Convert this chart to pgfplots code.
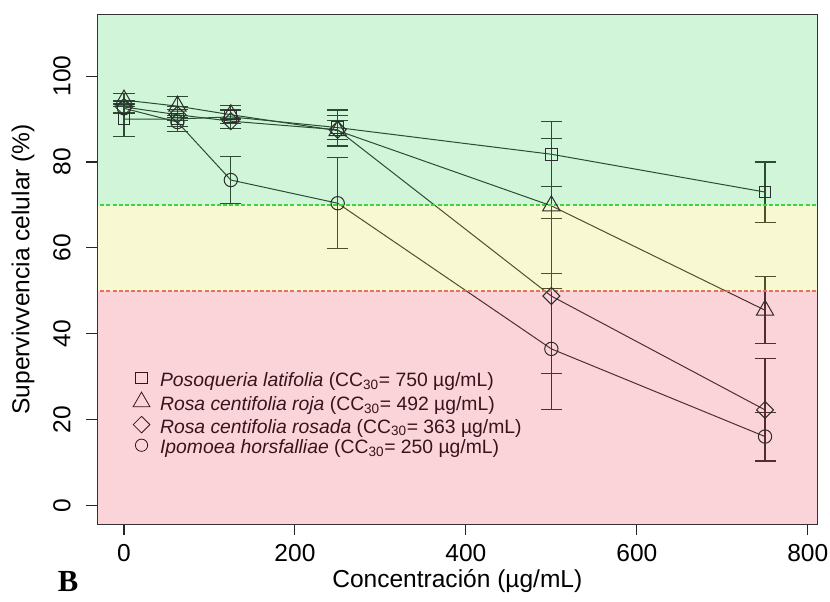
\documentclass[border=0pt]{standalone}
\usepackage{fontspec}
\setmainfont{Liberation Sans}
\newfontfamily\serifB{Liberation Serif}
\usepackage{pgfplots}
\usepackage{pgfplotstable}
\pgfplotsset{compat=1.18}

\definecolor{ovgreen}{RGB}{20,205,60}
\definecolor{ovyellow}{RGB}{220,220,30}
\definecolor{ovred}{RGB}{230,40,65}
\definecolor{ln}{RGB}{45,45,45}
\definecolor{lgd}{RGB}{55,20,28}
\definecolor{dgreen}{RGB}{60,215,60}
\definecolor{dred}{RGB}{225,115,95}

\pgfplotstableread{
x y e
0 90.0 4.0
62.5 90.0 3.0
125 90.5 2.7
250 88.0 4.1
500 81.8 7.6
750 73.0 7.0
}\posoq

\pgfplotstableread{
x y e
0 94.4 1.5
62.5 93.0 2.2
125 91.0 1.1
250 87.3 3.6
500 69.8 15.7
750 45.5 7.8
}\roja

\pgfplotstableread{
x y e
0 92.8 1.5
62.5 91.0 1.3
125 89.5 0.6
250 87.5 2.2
500 48.8 18.0
750 22.3 12.0
}\rosada

\pgfplotstableread{
x y e
0 92.5 1.0
62.5 89.3 1.0
125 75.8 5.4
250 70.4 10.6
500 36.5 14.1
750 16.1 5.6
}\ipom

\begin{document}
\begin{tikzpicture}
\begin{axis}[name=ax,
  scale only axis, width=540pt, height=382.5pt,
  xmin=-31.2, xmax=811.2, ymin=-4.33, ymax=114.36,
  xtick={0,200,400,600,800}, ytick={0,20,40,60,80,100},
  tick align=outside, major tick length=8.25pt,
  xtick pos=bottom, ytick pos=left,
  tick style={line width=0.8pt, color=black!85},
  axis line style={line width=0.9pt, color=black!80},
  axis on top,
  /pgf/number format/assume math mode=true,
  tick label style={font=\fontsize{18.4}{22}\selectfont},
  label style={font=\fontsize{18.4}{22}\selectfont},
  yticklabel style={rotate=90, anchor=base},
  xticklabel style={anchor=base},
  xticklabel shift=19.5pt,
  yticklabel shift=12pt,
  xlabel={Concentración (µg/mL)},
  ylabel={Supervivvencia celular (\%)},
  xlabel style={at={(0.5,-0.124)}, anchor=base},
  ylabel style={at={(-0.1032,0.5)}, anchor=center},
  legend style={at={(axis cs:5.85,31.2)}, anchor=north west, draw=none, fill=none,
    inner sep=0pt, column sep=3.7pt, row sep=0pt,
    font=\fontsize{14.5}{17}\selectfont, text=lgd,
    nodes={text height=9pt, text depth=3.5pt, inner sep=1pt}},
  legend cell align=left,
  legend image code/.code={\path (-9pt,0pt) (9pt,0pt); \draw[#1] plot coordinates {(0pt,3.6pt)};},
  error bars/y dir=both, error bars/y explicit,
  error bars/error bar style={line width=0.85pt, ln},
  error bars/error mark options={rotate=90, line width=0.85pt, ln, mark size=7.9pt},
]
\addplot[forget plot, ln, line width=0.75pt, mark=square, mark size=4.4pt,
  mark options={fill=white, line width=0.75pt}]
  table[x=x, y=y, y error=e] {\posoq};
\addplot[forget plot, ln, line width=0.75pt, mark=triangle, mark size=7.5pt,
  mark options={fill=white, line width=0.75pt}]
  table[x=x, y=y, y error=e] {\roja};
\addplot[forget plot, ln, line width=0.75pt, mark=square, mark size=4.5pt,
  mark options={rotate=45, fill=white, line width=0.75pt}]
  table[x=x, y=y, y error=e] {\rosada};
\addplot[forget plot, ln, line width=0.75pt, mark=o, mark size=5pt,
  mark options={fill=white, line width=0.75pt}]
  table[x=x, y=y, y error=e] {\ipom};

\fill[ovgreen, fill opacity=0.2] (axis cs:-200,70) rectangle (axis cs:1000,200);
\fill[ovyellow, fill opacity=0.2] (axis cs:-200,50) rectangle (axis cs:1000,70);
\fill[ovred, fill opacity=0.2] (axis cs:-200,-50) rectangle (axis cs:1000,50);

\addplot[forget plot, dgreen, line width=1pt, dash pattern=on 3pt off 1.6pt] coordinates {(-200,70) (1000,70)};
\addplot[forget plot, dred, line width=1pt, dash pattern=on 3pt off 1.6pt] coordinates {(-200,50) (1000,50)};

\addlegendimage{only marks, lgd, mark=square, mark size=4.3pt, mark options={line width=0.6pt}}
\addlegendentry{\textit{Posoqueria latifolia} (CC\textsubscript{30}= 750 µg/mL)}
\addlegendimage{only marks, lgd, mark=triangle, mark size=7.3pt, mark options={line width=0.6pt}}
\addlegendentry{\textit{Rosa centifolia roja} (CC\textsubscript{30}= 492 µg/mL)}
\addlegendimage{only marks, lgd, mark=square, mark size=4.4pt, mark options={rotate=45, line width=0.6pt}}
\addlegendentry{\textit{Rosa centifolia rosada} (CC\textsubscript{30}= 363 µg/mL)}
\addlegendimage{only marks, lgd, mark=o, mark size=4.6pt, mark options={line width=0.6pt}}
\addlegendentry{\textit{Ipomoea horsfalliae} (CC\textsubscript{30}= 250 µg/mL)}
\end{axis}
\node[font=\serifB\bfseries\fontsize{23}{26}\selectfont] at ([xshift=-22pt,yshift=-42.5pt]ax.south west) {B};
\pgfresetboundingbox
\path[use as bounding box] ([xshift=-73pt, yshift=-57.5pt]ax.south west) rectangle ++(622.5pt, 450.75pt);
\end{tikzpicture}
\end{document}
